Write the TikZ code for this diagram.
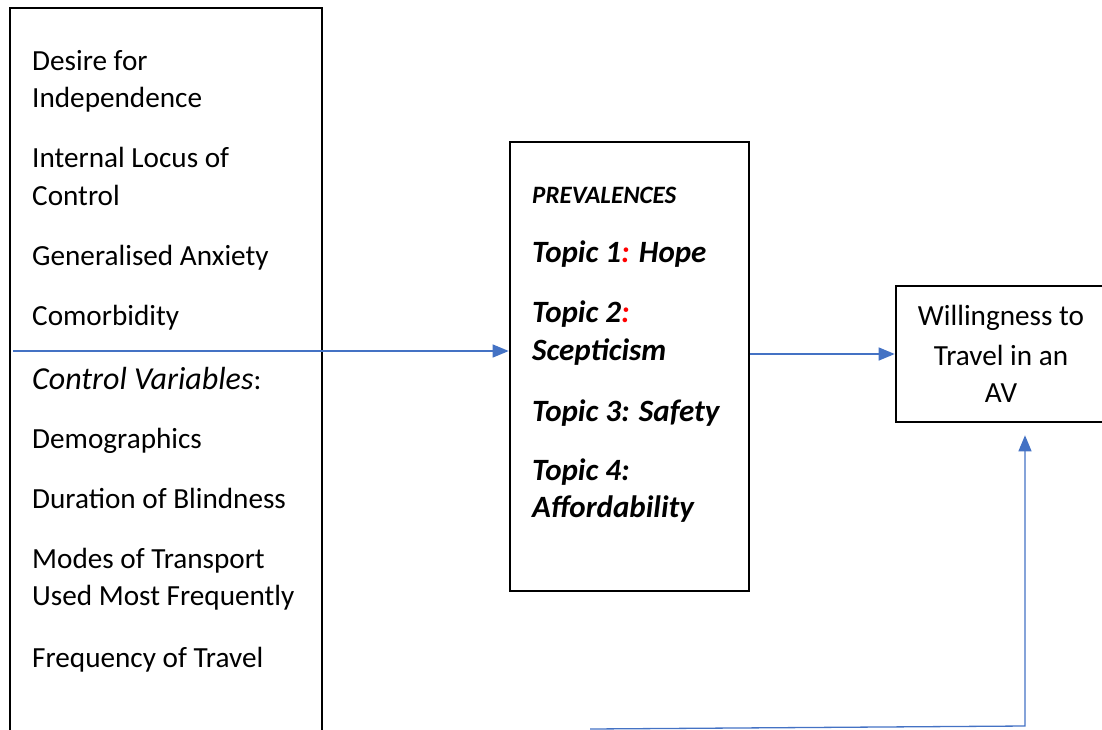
\documentclass[tikz,border=0pt]{standalone}
\usepackage{fontspec}
\setmainfont{Carlito}
\usetikzlibrary{arrows.meta}
\definecolor{conn}{HTML}{4472C4}
\definecolor{redc}{HTML}{FF0000}
\tikzset{
  boxstyle/.style={draw=black, line width=2.6pt, fill=none, inner sep=0pt},
  connline/.style={draw=conn, line width=1.3pt},
  connarrow/.style={connline, -{Triangle[length=16pt,width=13pt]}},
  lefttext/.style={anchor=base west, inner sep=0pt, font=\fontsize{29.2}{32}\selectfont},
  midhead/.style={anchor=base west, inner sep=0pt, font=\fontsize{25}{28}\selectfont\bfseries\itshape},
  midtext/.style={anchor=base west, inner sep=0pt, font=\fontsize{31}{34}\selectfont\bfseries\itshape},
  righttext/.style={anchor=base, inner sep=0pt, font=\fontsize{29.2}{32}\selectfont}
}
\begin{document}
\begin{tikzpicture}[x=1pt,y=-1pt]
\useasboundingbox (0,0) rectangle (1102,729);
\clip (0,0) rectangle (1102,729);
% boxes
\node[boxstyle, minimum width=312pt, minimum height=752pt] (left) at (166,384) {};
\node[boxstyle, minimum width=239pt, minimum height=449pt] (mid) at (629.5,366.5) {};
\node[boxstyle, minimum width=230pt, minimum height=136pt] (av) at (1011,354) {};
% left texts
\node[lefttext] (t1) at (32,70) {Desire for};
\node[lefttext] (t2) at (32,107) {Independence};
\node[lefttext] (t3) at (32,167) {Internal Locus of};
\node[lefttext] (t4) at (32,205) {Control};
\node[lefttext] (t5) at (32,265) {Generalised Anxiety};
\node[lefttext] (t6) at (32,325) {Comorbidity};
\node[lefttext] (t7) at (32,389) {{\fontsize{32}{34}\selectfont\itshape Control Variables}:};
\node[lefttext] (t8) at (32,448) {Demographics};
\node[lefttext] (t9) at (32,508) {Duration of Blindness};
\node[lefttext] (t10) at (32,568) {Modes of Transport};
\node[lefttext] (t11) at (32,605) {Used Most Frequently};
\node[lefttext] (t12) at (32,667) {Frequency of Travel};
% middle texts
\node[midhead] (m0) at (532,203) {PREVALENCES};
\node[midtext] (m1) at (532,262) {Topic 1\textcolor{redc}{:} Hope};
\node[midtext] (m2) at (532,322) {Topic 2\textcolor{redc}{:}};
\node[midtext] (m3) at (532,360) {Scepticism};
\node[midtext] (m4) at (532,421) {Topic 3: Safety};
\node[midtext] (m5) at (532,480) {Topic 4:};
\node[midtext] (m6) at (532,517) {Affordability};
% right texts
\node[righttext] (r1) at (1001,325) {Willingness to};
\node[righttext] (r2) at (1001,365) {Travel in an};
\node[righttext] (r3) at (1001,402) {AV};
% connectors
\coordinate (lstart) at (13,351);
\coordinate (bstart) at (590,729);
\coordinate (bcorner) at (1025,726);
\draw[connarrow] (lstart) -- (lstart -| mid.west);
\draw[connarrow] (mid.east |- av.west) -- (av.west);
\draw[connarrow, shorten >=12pt] (bstart) -- (bcorner) -- (bcorner |- av.south);
\end{tikzpicture}
\end{document}
